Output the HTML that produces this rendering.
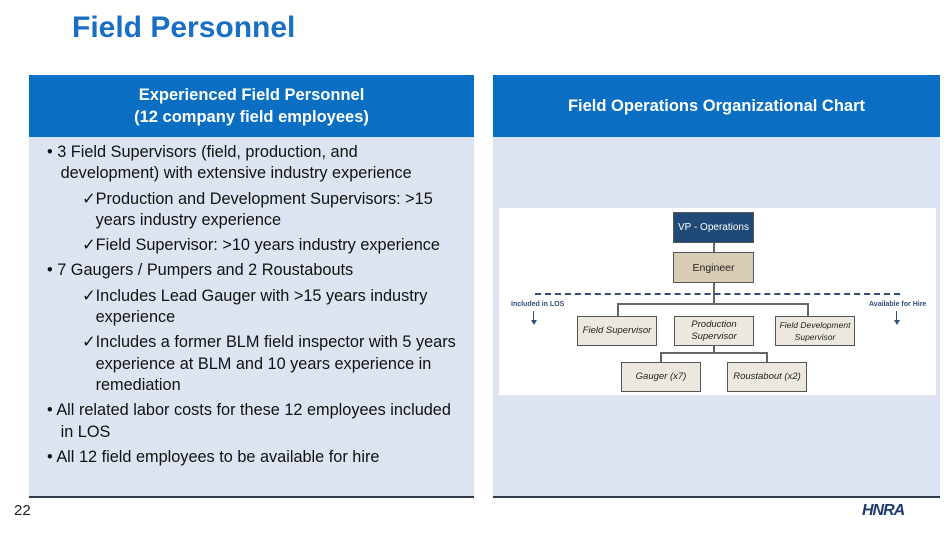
<!DOCTYPE html>
<html><head><style>
body{margin:0;width:950px;height:534px;background:#fff;position:relative;overflow:hidden;font-family:"Liberation Sans",sans-serif}
.a{position:absolute}
.hd{background:#0a6fc2;color:#fff;font-weight:bold;font-size:16.5px;text-align:center;display:flex;align-items:center;justify-content:center;line-height:22px}
.bd{background:#dce3f1;border-bottom:2px solid #2f3a4a}
.t{font-size:16.3px;color:#111;line-height:21.3px}
.t>div{margin-bottom:4px}
.b{position:absolute;box-sizing:border-box;border:1px solid #555;background:#ede8df;font-style:italic;font-size:9.5px;display:flex;align-items:center;justify-content:center;text-align:center;line-height:12px;color:#222;white-space:nowrap}
.l{position:absolute;background:#666}
</style></head><body>
<div class="a" style="left:72px;top:11px;font-size:30px;font-weight:bold;color:#1a6fc4">Field Personnel</div>
<div class="a hd" style="left:29px;top:75px;width:445px;height:62px">Experienced Field Personnel<br>(12 company field employees)</div>
<div class="a bd" style="left:29px;top:137px;width:445px;height:359px"></div>
<div class="a hd" style="left:493px;top:75px;width:447px;height:62px">Field Operations Organizational Chart</div>
<div class="a bd" style="left:493px;top:137px;width:447px;height:359px"></div>
<div class="a t" style="left:47px;top:142px;width:427px">
<div>• 3 Field Supervisors (field, production, and<br>&nbsp;&nbsp;&nbsp;development) with extensive industry experience</div>
<div style="padding-left:35px">✓Production and Development Supervisors: &gt;15<br>&nbsp;&nbsp;&nbsp;years industry experience</div>
<div style="padding-left:35px">✓Field Supervisor: &gt;10 years industry experience</div>
<div>• 7 Gaugers / Pumpers and 2 Roustabouts</div>
<div style="padding-left:35px">✓Includes Lead Gauger with &gt;15 years industry<br>&nbsp;&nbsp;&nbsp;experience</div>
<div style="padding-left:35px">✓Includes a former BLM field inspector with 5 years<br>&nbsp;&nbsp;&nbsp;experience at BLM and 10 years experience in<br>&nbsp;&nbsp;&nbsp;remediation</div>
<div>• All related labor costs for these 12 employees included<br>&nbsp;&nbsp;&nbsp;in LOS</div>
<div>• All 12 field employees to be available for hire</div>
</div>
<div class="a" style="left:499px;top:208px;width:437px;height:187px;background:#fff"></div>
<div class="l" style="left:713px;top:243px;width:2px;height:10px"></div>
<div class="l" style="left:713px;top:283px;width:2px;height:21px"></div>
<div class="l" style="left:617px;top:303px;width:192px;height:2px"></div>
<div class="l" style="left:617px;top:303px;width:2px;height:13px"></div>
<div class="l" style="left:807px;top:303px;width:2px;height:13px"></div>
<div class="l" style="left:713px;top:345px;width:2px;height:8px"></div>
<div class="l" style="left:660px;top:352px;width:108px;height:2px"></div>
<div class="l" style="left:660px;top:352px;width:2px;height:10px"></div>
<div class="l" style="left:766px;top:352px;width:2px;height:10px"></div>
<div class="a" style="left:535px;top:293px;width:365px;border-top:2px dashed #2f4f7a"></div>
<div class="b" style="left:673px;top:212px;width:81px;height:31px;background:#1f4a78;color:#fff;font-style:normal;font-size:10px">VP - Operations</div>
<div class="b" style="left:673px;top:252px;width:81px;height:31px;background:#d8ccb4;font-style:normal;font-size:10.5px">Engineer</div>
<div class="b" style="left:577px;top:316px;width:80px;height:30px">Field Supervisor</div>
<div class="b" style="left:674px;top:316px;width:80px;height:30px">Production<br>Supervisor</div>
<div class="b" style="left:775px;top:316px;width:80px;height:30px;font-size:8.5px">Field Development<br>Supervisor</div>
<div class="b" style="left:621px;top:362px;width:80px;height:30px">Gauger (x7)</div>
<div class="b" style="left:727px;top:362px;width:80px;height:30px">Roustabout (x2)</div>
<div class="a" style="left:511px;top:301px;font-size:7px;font-weight:bold;color:#2f4f7a">Included in LOS</div>
<div class="a" style="left:869px;top:301px;font-size:7px;font-weight:bold;color:#2f4f7a">Available for Hire</div>
<div class="a" style="left:533px;top:311px;width:1px;height:10px;background:#2f4f7a"></div>
<div class="a" style="left:531px;top:320px;border-left:3px solid transparent;border-right:3px solid transparent;border-top:5px solid #2f4f7a"></div>
<div class="a" style="left:896px;top:311px;width:1px;height:10px;background:#2f4f7a"></div>
<div class="a" style="left:894px;top:320px;border-left:3px solid transparent;border-right:3px solid transparent;border-top:5px solid #2f4f7a"></div>
<div class="a" style="left:14px;top:502px;font-size:15px;color:#222">22</div>
<div class="a" style="left:862px;top:502px;font-size:16px;font-style:italic;font-weight:bold;color:#1f3a6e;letter-spacing:-1px">HNRA</div>
</body></html>
